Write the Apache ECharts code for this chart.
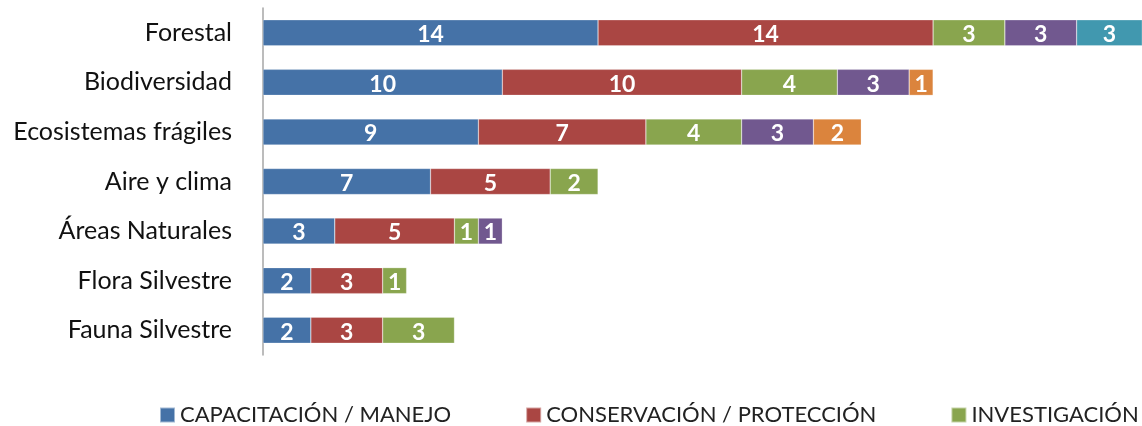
<!DOCTYPE html>
<html>
<head>
<meta charset="utf-8">
<script src="https://cdn.jsdelivr.net/npm/echarts@6/dist/echarts.min.js"></script>
<style>
  html, body { margin: 0; padding: 0; background: #fff; }
  #chart { width: 1142px; height: 426px; }
</style>
</head>
<body>
<div id="chart"></div>
<script>
// categorias (de arriba hacia abajo)
var categories = ['Forestal', 'Biodiversidad', 'Ecosistemas frágiles', 'Aire y clima', 'Áreas Naturales', 'Flora Silvestre', 'Fauna Silvestre']
var seriesNames = ['CAPACITACIÓN / MANEJO', 'CONSERVACIÓN / PROTECCIÓN', 'INVESTIGACIÓN', 'SERIE 4', 'SERIE 5', 'SERIE 6']
var capacitacion = [14, 10, 9, 7, 3, 2, 2]
var conservacion = [14, 10, 7, 5, 5, 3, 3]
var investigacion = [3, 4, 4, 2, 1, 1, 3]
var serie4 = [3, 3, 3, null, 1, null, null]
var serie5 = [null, 1, 2, null, null, null, null]
var serie6 = [3, null, null, null, null, null, null]
var colors = ['#4572A7', '#AA4643', '#89A54E', '#71588F', '#DB843D', '#4198AF']

var values = [capacitacion, conservacion, investigacion, serie4, serie5, serie6]
var series = []
values.forEach(function (vals, i) {
  series.push({
    name: seriesNames[i],
    type: 'bar',
    stack: 'total',
    barWidth: 26,
    data: vals,
    itemStyle: { color: colors[i], borderColor: 'rgba(255,255,255,0.5)', borderWidth: 0.5 },
    label: {
      show: true,
      position: 'inside',
      offset: [0, 2],
      color: '#fff',
      fontFamily: 'Lato',
      fontWeight: 'bold',
      fontSize: 23
    }
  })
})

var option = {
  animation: false,
  color: colors,
  grid: { left: 263, right: 0, top: 8, bottom: 71 },
  legend: {
    data: seriesNames.slice(0, 3),
    left: 154,
    top: 399,
    width: 2000, // que no se parta en dos lineas
    icon: 'rect',
    itemWidth: 15,
    itemHeight: 15,
    itemGap: 74,
    textStyle: { fontFamily: 'Lato', fontSize: 22, color: '#222' }
  },
  xAxis: {
    type: 'value',
    min: 0,
    max: 36.73,
    show: false
  },
  yAxis: {
    type: 'category',
    inverse: true,
    data: categories,
    axisLine: { show: true, lineStyle: { color: '#A6A6A6', width: 1.5 } },
    axisTick: { show: false },
    axisLabel: { margin: 31, fontFamily: 'Lato', fontSize: 25, color: '#111', padding: [14, 0, 0, 0] }
  },
  series: series
}

var chartObj = echarts.init(document.getElementById('chart'))
chartObj.setOption(option)
</script>
</body>
</html>
